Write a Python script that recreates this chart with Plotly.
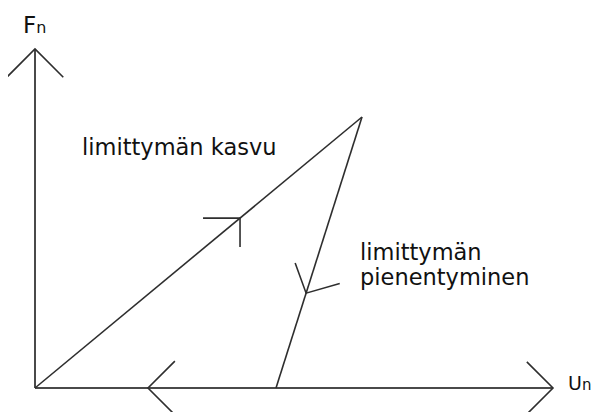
import numpy as np
import plotly.graph_objects as go

# Schematic data (arbitrary units): normal force Fn vs. normal displacement un
load_u = [0, 327]          # loading path: overlap grows
load_F = [0, 271]
unload_u = [327, 241]      # unloading path: overlap decreases
unload_F = [271, 0]
u_axis_max = 518
F_axis_max = 339
u_back_arrow = 113         # arrow on the u-axis pointing back toward origin

label_load = "limittymän kasvu"
label_unload_1 = "limittymän"
label_unload_2 = "pienentyminen"
label_F = "F<span style='font-size:16px'>n</span>"
label_u = "U<span style='font-size:15px'>n</span>"

LINE = "#2e2e2e"
AXIS = "#4a4a4a"
FONT = "DejaVu Sans"


def chevron(x0, y0, l1, a1, l2, a2):
    a1r, a2r = np.deg2rad(a1), np.deg2rad(a2)
    xs = [x0 + l1 * np.cos(a1r), x0, x0 + l2 * np.cos(a2r)]
    ys = [y0 + l1 * np.sin(a1r), y0, y0 + l2 * np.sin(a2r)]
    return xs, ys


fig = go.Figure()

# axes
fig.add_trace(go.Scatter(x=[0, u_axis_max], y=[0, 0], mode="lines",
                         line=dict(color=AXIS, width=2), hoverinfo="skip"))
fig.add_trace(go.Scatter(x=[0, 0], y=[0, F_axis_max], mode="lines",
                         line=dict(color=AXIS, width=2), hoverinfo="skip"))

# axis arrowheads
for xs, ys in [
    chevron(0, F_axis_max, 40, 225, 40, 315),
    chevron(u_axis_max, 0, 37, 135, 37, 225),
    chevron(u_back_arrow, 0, 38, 45, 38, 315),
]:
    fig.add_trace(go.Scatter(x=xs, y=ys, mode="lines",
                             line=dict(color=LINE, width=1.6), hoverinfo="skip"))

# loading and unloading lines
fig.add_trace(go.Scatter(x=load_u, y=load_F, mode="lines",
                         line=dict(color=LINE, width=1.6), hoverinfo="skip"))
fig.add_trace(go.Scatter(x=unload_u, y=unload_F, mode="lines",
                         line=dict(color=LINE, width=1.6), hoverinfo="skip"))

# direction arrows on the paths
t1 = 0.627
vx = load_u[0] + t1 * (load_u[1] - load_u[0])
vy = load_F[0] + t1 * (load_F[1] - load_F[0])
xs, ys = chevron(vx, vy, 37, 180, 29, 270)
fig.add_trace(go.Scatter(x=xs, y=ys, mode="lines",
                         line=dict(color=LINE, width=1.6), hoverinfo="skip"))

t2 = 0.65
wx = unload_u[0] + t2 * (unload_u[1] - unload_u[0])
wy = unload_F[0] + t2 * (unload_F[1] - unload_F[0])
xs, ys = chevron(wx, wy, 32, 110, 35, 16)
fig.add_trace(go.Scatter(x=xs, y=ys, mode="lines",
                         line=dict(color=LINE, width=1.6), hoverinfo="skip"))

ann_font = dict(family=FONT, size=22.5, color="#111111")
fig.add_annotation(x=45, y=241, text=label_load, showarrow=False,
                   xanchor="left", yanchor="middle", font=ann_font)
fig.add_annotation(x=323, y=136, text=label_unload_1, showarrow=False,
                   xanchor="left", yanchor="middle", font=ann_font)
fig.add_annotation(x=323, y=111, text=label_unload_2, showarrow=False,
                   xanchor="left", yanchor="middle", font=ann_font)
fig.add_annotation(x=-14, y=363, text=label_F, showarrow=False,
                   xanchor="left", yanchor="middle",
                   font=dict(family=FONT, size=23, color="#111111"))
fig.add_annotation(x=532, y=5, text=label_u, showarrow=False,
                   xanchor="left", yanchor="middle", borderpad=0,
                   font=dict(family=FONT, size=19, color="#111111"))

# page body has an 8px margin: figure is 8px smaller, ranges compensate
fig.update_layout(
    width=595, height=404,
    margin=dict(l=0, r=0, t=0, b=0),
    paper_bgcolor="white", plot_bgcolor="white",
    showlegend=False,
    xaxis=dict(range=[-27, 568], visible=False, fixedrange=True),
    yaxis=dict(range=[-24, 380], visible=False, fixedrange=True),
)

fig.write_html("out.html")
